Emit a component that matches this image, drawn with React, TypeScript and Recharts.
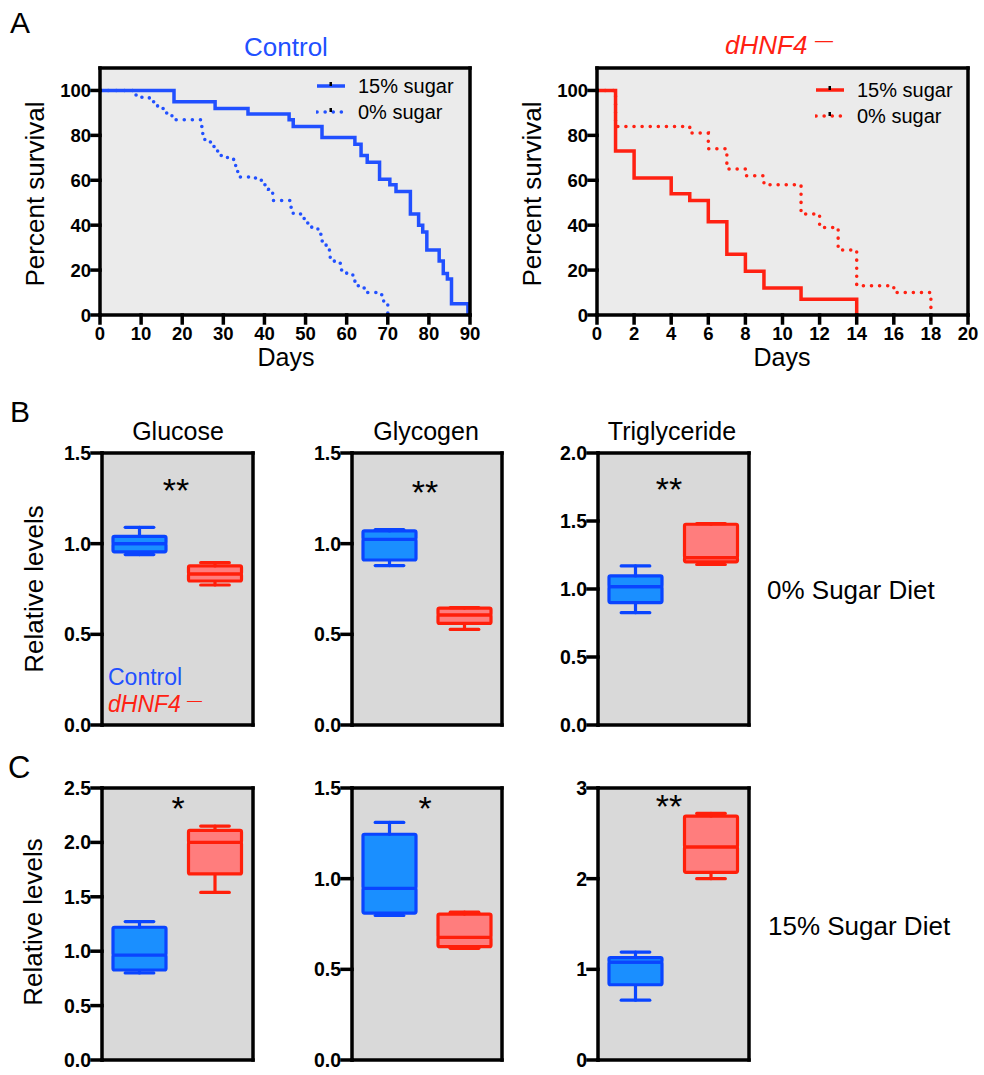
import React from 'react';
import { LineChart, Line, XAxis, YAxis, CartesianGrid, Legend, ComposedChart, Bar } from 'recharts';

const FONT = '"Liberation Sans", Arial, Helvetica, sans-serif';
const BLUE = '#2150ff';
const RED = '#ff2112';
const BOX_STROKE = ['#0a45ff', '#ff1f0a'];
const BOX_FILL = ['#1a8fff', '#ff7d7d'];
const SURV_BG = '#ebebeb';
const BOX_BG = '#d9d9d9';

const groups = ['Control', 'dHNF4-'];

// Panel A: survival steps (day, percent survival)
const ctrlSugarDays = [0, 18, 28, 36, 46, 47, 54, 62, 63.5, 65, 68, 70.5, 72, 75.5, 77.5, 78.5, 79.5, 82.5, 83.5, 84.5, 85.5, 89.5];
const ctrlSugarSurv = [100, 95, 92, 89.5, 87, 84, 79, 76, 71, 68, 60.5, 58, 55, 45, 40, 37, 29, 24, 18.5, 16, 5, 0];
const ctrlNoSugarDays = [0, 8, 10, 12, 14, 16, 17.5, 24.5, 25, 25.5, 27, 28, 29, 31, 32.5, 33, 33.5, 37, 38.5, 40, 41, 42, 46.3, 47, 49, 50, 51.5, 53, 54, 55, 56, 57, 58.5, 60, 61.5, 62, 64, 65, 68.5, 69, 70];
const ctrlNoSugarSurv = [100, 98, 97, 95, 92, 90, 87, 84, 80, 77, 75, 73, 71, 70, 68, 64, 61.5, 61, 60, 58, 56, 51, 48, 45, 43, 41, 39, 36, 33, 29, 25, 23, 20, 18, 16, 13, 12, 10, 9, 6, 0];
const mutSugarDays = [0, 1, 2, 4, 5, 6, 7, 8, 9, 11, 14];
const mutSugarSurv = [100, 73, 61, 54, 51, 41.5, 27, 19.5, 12, 7, 0];
const mutNoSugarDays = [0, 1, 5, 6, 7, 8, 9, 11, 12, 13, 14, 16, 18];
const mutNoSugarSurv = [100, 84, 81, 74, 65, 62, 58, 45, 39, 29, 13, 10, 0];

const survTicksY = [0, 20, 40, 60, 80, 100];
const ctrlTicksX = [0, 10, 20, 30, 40, 50, 60, 70, 80, 90];
const mutTicksX = [0, 2, 4, 6, 8, 10, 12, 14, 16, 18, 20];

// Panels B/C: [min, q1, median, q3, max]
const glucose0Ctrl = [0.94, 0.955, 1.0, 1.04, 1.09];
const glucose0Mut = [0.772, 0.794, 0.833, 0.877, 0.895];
const glycogen0Ctrl = [0.879, 0.91, 1.024, 1.07, 1.078];
const glycogen0Mut = [0.527, 0.56, 0.607, 0.645, 0.647];
const trig0Ctrl = [0.826, 0.9, 1.017, 1.096, 1.17];
const trig0Mut = [1.18, 1.2, 1.23, 1.476, 1.48];
const glucose15Ctrl = [0.8, 0.827, 0.965, 1.22, 1.272];
const glucose15Mut = [1.54, 1.71, 2.0, 2.11, 2.15];
const glycogen15Ctrl = [0.797, 0.81, 0.947, 1.245, 1.31];
const glycogen15Mut = [0.616, 0.625, 0.676, 0.805, 0.815];
const trig15Ctrl = [0.66, 0.83, 1.08, 1.13, 1.19];
const trig15Mut = [2.0, 2.07, 2.35, 2.69, 2.72];

const ticks15 = [0, 0.5, 1.0, 1.5];
const ticks20 = [0, 0.5, 1.0, 1.5, 2.0];
const ticks25 = [0, 0.5, 1.0, 1.5, 2.0, 2.5];
const ticks3 = [0, 1, 2, 3];

const AXIS = { stroke: '#000', strokeWidth: 3.5, strokeLinecap: 'square' as const };
const TICK = { fill: '#000', fontSize: 18.5, fontWeight: 700, fontFamily: FONT };
const BOX_TICK = { ...TICK, fontSize: 19.5 };

const zipSurv = (days: number[], surv: number[]) => days.map((day, i) => ({ day, surv: surv[i] }));

const toRow = (name: string, v: number[]) => ({
  name,
  base: v[0],
  lowWhisker: v[1] - v[0],
  lowBox: v[2] - v[1],
  highBox: v[3] - v[2],
  highWhisker: v[4] - v[3],
});

const idxOf = (p: any) => (typeof p.index === 'number' ? p.index : p.payload?.name === groups[0] ? 0 : 1);

const whisker = (side: 'low' | 'high') => (p: any) => {
  const i = idxOf(p);
  const top = Math.min(p.y, p.y + p.height);
  const bottom = Math.max(p.y, p.y + p.height);
  const cx = p.x + p.width / 2;
  const cap = p.width * 0.27;
  const capY = side === 'low' ? bottom : top;
  return (
    <g stroke={BOX_STROKE[i]} strokeWidth={3.2} strokeLinecap="round">
      <line x1={cx} x2={cx} y1={top} y2={bottom} />
      <line x1={cx - cap} x2={cx + cap} y1={capY} y2={capY} />
    </g>
  );
};

const boxShape = (p: any) => {
  const i = idxOf(p);
  const top = Math.min(p.y, p.y + p.height);
  const h = Math.abs(p.height);
  return <rect x={p.x} y={top} width={p.width} height={h} rx={1.5} fill={BOX_FILL[i]} stroke={BOX_STROKE[i]} strokeWidth={3.2} />;
};

type Series = { name: string; data: { day: number; surv: number }[]; color: string; dashed: boolean };

const SurvLegend = ({ items }: { items: Series[] }) => (
  <div style={{ fontFamily: FONT, fontSize: 20, color: '#000', lineHeight: 1 }}>
    {items.map((it) => (
      <div key={it.name} style={{ display: 'flex', alignItems: 'center', height: 26 }}>
        <svg width={42} height={26} style={{ display: 'block' }}>
          <line
            x1={1}
            x2={29}
            y1={13}
            y2={13}
            stroke={it.color}
            strokeWidth={3.5}
            strokeDasharray={it.dashed ? '0.1 8' : undefined}
            strokeLinecap={it.dashed ? 'round' : 'butt'}
          />
          <rect x={13.5} y={9} width={2.5} height={4} fill="#000" />
        </svg>
        <span style={{ whiteSpace: 'nowrap' }}>{it.name}</span>
      </div>
    ))}
  </div>
);

function SurvivalPanel(props: {
  left: number;
  width: number;
  yAxisWidth: number;
  rightMargin: number;
  xMax: number;
  xTicks: number[];
  series: Series[];
  legendLeft: number;
  legendTop: number;
}) {
  const { left, width, yAxisWidth, rightMargin, xMax, xTicks, series, legendLeft, legendTop } = props;
  return (
    <div style={{ position: 'absolute', left, top: 58 }}>
      <LineChart width={width} height={297} margin={{ top: 9, right: rightMargin - 1, bottom: 0, left: 0 }}>
        <CartesianGrid fill={SURV_BG} horizontal={false} vertical={false} />
        <XAxis
          dataKey="day"
          type="number"
          domain={[0, xMax]}
          ticks={xTicks}
          interval={0}
          height={40}
          tickSize={8}
          tickMargin={4}
          tick={TICK}
          axisLine={AXIS}
          tickLine={AXIS}
        />
        <XAxis xAxisId="top" dataKey="day" type="number" domain={[0, xMax]} orientation="top" height={1} tick={false} tickLine={false} axisLine={AXIS} />
        <YAxis
          type="number"
          domain={[0, 110]}
          ticks={survTicksY}
          interval={0}
          width={yAxisWidth}
          tickSize={8}
          tickMargin={1}
          tick={TICK}
          axisLine={AXIS}
          tickLine={AXIS}
        />
        <YAxis yAxisId="right" type="number" orientation="right" width={1} domain={[0, 110]} tick={false} tickLine={false} axisLine={AXIS} />
        {series.map((s) => (
          <Line
            key={s.name}
            name={s.name}
            data={s.data}
            dataKey="surv"
            type="stepAfter"
            stroke={s.color}
            strokeWidth={3.5}
            strokeDasharray={s.dashed ? '0.1 8' : undefined}
            strokeLinecap={s.dashed ? 'round' : 'butt'}
            dot={false}
            isAnimationActive={false}
          />
        ))}
        {/* invisible series so the frame axes (top / right) get a domain */}
        <Line
          data={series[0].data}
          xAxisId="top"
          yAxisId="right"
          dataKey="surv"
          stroke="none"
          dot={false}
          legendType="none"
          isAnimationActive={false}
        />
        <Legend
          layout="vertical"
          align="center"
          verticalAlign="middle"
          content={() => <SurvLegend items={series} />}
          wrapperStyle={{ left: legendLeft, top: legendTop, width: 'auto', height: 'auto' }}
        />
      </LineChart>
    </div>
  );
}

function BoxPanel(props: { L: number; R: number; T: number; B: number; ctrl: number[]; mut: number[]; ticks: number[]; digits: number }) {
  const { L, R, T, B, ctrl, mut, ticks, digits } = props;
  const data = [toRow(groups[0], ctrl), toRow(groups[1], mut)];
  const max = ticks[ticks.length - 1];
  return (
    <div style={{ position: 'absolute', left: L - 100, top: T - 12 }}>
      <ComposedChart width={R - L + 112} height={B - T + 42} data={data} margin={{ top: 11, right: 11, bottom: 0, left: 0 }}>
        <CartesianGrid fill={BOX_BG} horizontal={false} vertical={false} />
        <XAxis dataKey="name" tick={false} tickSize={9} height={30} axisLine={AXIS} tickLine={AXIS} />
        <XAxis xAxisId="top" dataKey="name" orientation="top" height={1} tick={false} tickLine={false} axisLine={AXIS} />
        <YAxis
          type="number"
          domain={[0, max]}
          ticks={ticks}
          interval={0}
          width={100}
          tickSize={10}
          tickMargin={1}
          tick={BOX_TICK}
          tickFormatter={(v: number) => v.toFixed(digits)}
          axisLine={AXIS}
          tickLine={AXIS}
        />
        <YAxis yAxisId="right" type="number" orientation="right" width={1} domain={[0, max]} tick={false} tickLine={false} axisLine={AXIS} />
        <Bar dataKey="base" stackId="b" barSize={53} fill="transparent" isAnimationActive={false} />
        <Bar dataKey="lowWhisker" stackId="b" barSize={53} shape={whisker('low')} isAnimationActive={false} />
        <Bar dataKey="lowBox" stackId="b" barSize={53} shape={boxShape} isAnimationActive={false} />
        <Bar dataKey="highBox" stackId="b" barSize={53} shape={boxShape} isAnimationActive={false} />
        <Bar dataKey="highWhisker" stackId="b" barSize={53} shape={whisker('high')} isAnimationActive={false} />
        {/* invisible series so the frame axes (top / right) get a domain */}
        <Line xAxisId="top" yAxisId="right" dataKey="base" stroke="none" dot={false} legendType="none" isAnimationActive={false} />
      </ComposedChart>
    </div>
  );
}

const ctrlSeries: Series[] = [
  { name: '15% sugar', data: zipSurv(ctrlSugarDays, ctrlSugarSurv), color: BLUE, dashed: false },
  { name: '0% sugar', data: zipSurv(ctrlNoSugarDays, ctrlNoSugarSurv), color: BLUE, dashed: true },
];
const mutSeries: Series[] = [
  { name: '15% sugar', data: zipSurv(mutSugarDays, mutSugarSurv), color: RED, dashed: false },
  { name: '0% sugar', data: zipSurv(mutNoSugarDays, mutNoSugarSurv), color: RED, dashed: true },
];

const cols = [
  { L: 102, R: 253 },
  { L: 352, R: 502 },
  { L: 598, R: 749 },
];
const rowB = { T: 453, B: 725 };
const rowC = { T: 788, B: 1060 };

export default function App() {
  return (
    <div style={{ position: 'absolute', left: 0, top: 0, width: 984, height: 1075, overflow: 'hidden', background: '#fff' }}>
      <SurvivalPanel left={0} width={490} yAxisWidth={100} rightMargin={20} xMax={90} xTicks={ctrlTicksX} series={ctrlSeries} legendLeft={316} legendTop={15} />
      <SurvivalPanel left={517} width={467} yAxisWidth={80} rightMargin={16} xMax={20} xTicks={mutTicksX} series={mutSeries} legendLeft={298} legendTop={19} />

      <BoxPanel {...cols[0]} {...rowB} ctrl={glucose0Ctrl} mut={glucose0Mut} ticks={ticks15} digits={1} />
      <BoxPanel {...cols[1]} {...rowB} ctrl={glycogen0Ctrl} mut={glycogen0Mut} ticks={ticks15} digits={1} />
      <BoxPanel {...cols[2]} {...rowB} ctrl={trig0Ctrl} mut={trig0Mut} ticks={ticks20} digits={1} />
      <BoxPanel {...cols[0]} {...rowC} ctrl={glucose15Ctrl} mut={glucose15Mut} ticks={ticks25} digits={1} />
      <BoxPanel {...cols[1]} {...rowC} ctrl={glycogen15Ctrl} mut={glycogen15Mut} ticks={ticks15} digits={1} />
      <BoxPanel {...cols[2]} {...rowC} ctrl={trig15Ctrl} mut={trig15Mut} ticks={ticks3} digits={0} />

      <svg width={984} height={1075} style={{ position: 'absolute', left: 0, top: 0, pointerEvents: 'none' }} fontFamily={FONT}>
        <text x={10} y={33} fontSize={30}>A</text>
        <text x={10} y={422} fontSize={30}>B</text>
        <text x={8} y={778} fontSize={31}>C</text>

        <text x={286} y={56} fontSize={26} fill={BLUE} textAnchor="middle">Control</text>
        <text x={725} y={54} fontSize={26} fill={RED} fontStyle="italic">dHNF4</text>
        <text x={815} y={46} fontSize={18} fill={RED}>—</text>

        <text transform="translate(44,194) rotate(-90)" fontSize={26} textAnchor="middle">Percent survival</text>
        <text transform="translate(541,194) rotate(-90)" fontSize={26} textAnchor="middle">Percent survival</text>
        <text x={286} y={366} fontSize={25} textAnchor="middle">Days</text>
        <text x={782} y={366} fontSize={25} textAnchor="middle">Days</text>

        <text x={178} y={440} fontSize={25} textAnchor="middle">Glucose</text>
        <text x={426} y={440} fontSize={25} textAnchor="middle">Glycogen</text>
        <text x={672} y={440} fontSize={25} textAnchor="middle">Triglyceride</text>

        <text transform="translate(43,589) rotate(-90)" fontSize={26} textAnchor="middle">Relative levels</text>
        <text transform="translate(42,922) rotate(-90)" fontSize={26} textAnchor="middle">Relative levels</text>

        <text x={767} y={599} fontSize={26}>0% Sugar Diet</text>
        <text x={768} y={935} fontSize={26}>15% Sugar Diet</text>

        <text x={108} y={685} fontSize={23} fill={BLUE}>Control</text>
        <text x={108} y={712} fontSize={23} fill={RED} fontStyle="italic">dHNF4</text>
        <text x={187} y={705} fontSize={15} fill={RED}>—</text>

        <text x={176} y={502} fontSize={34} textAnchor="middle">**</text>
        <text x={425} y={504} fontSize={34} textAnchor="middle">**</text>
        <text x={669} y={501} fontSize={34} textAnchor="middle">**</text>
        <text x={178} y={820} fontSize={34} textAnchor="middle">*</text>
        <text x={425} y={820} fontSize={34} textAnchor="middle">*</text>
        <text x={669} y={818} fontSize={34} textAnchor="middle">**</text>
      </svg>
    </div>
  );
}
